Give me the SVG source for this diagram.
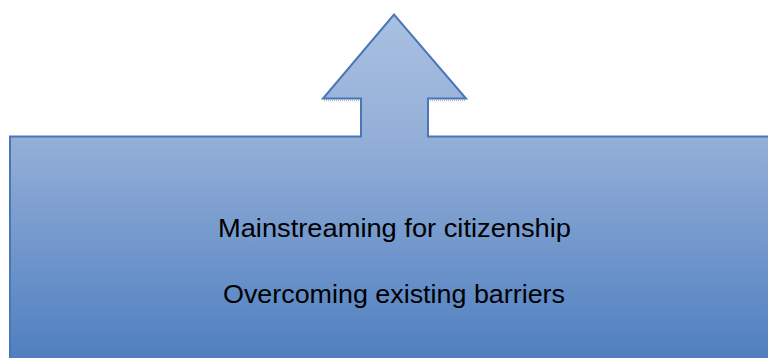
<svg xmlns="http://www.w3.org/2000/svg" width="768" height="358" viewBox="0 0 768 358">
  <defs>
    <linearGradient id="fillBlue" x1="0" y1="14" x2="0" y2="358" gradientUnits="userSpaceOnUse">
      <stop offset="0" stop-color="#a9c0e1"/>
      <stop offset="0.35" stop-color="#95b0d8"/>
      <stop offset="1" stop-color="#4f7fc0"/>
    </linearGradient>
  </defs>
  <style>
    .shape { fill: url(#fillBlue); stroke: #4a76b8; stroke-width: 2; stroke-linejoin: miter; }
    .ledge { stroke: #b8b8b8; stroke-width: 1.5; stroke-dasharray: 1 1; fill: none; }
    .label { font-family: "Liberation Sans", Arial, sans-serif; font-size: 25px; fill: #000; text-anchor: start; }
  </style>

  <!-- base panel with upward arrow on top -->
  <g id="panel">
    <path class="ledge" d="M324,100.5 H361 M428,100.5 H465"/>
    <path class="shape" d="M10,362 V136.5 H361 V98.5 H323 L394,14.5 L466,98.5 H428 V136.5 H772 V362 Z"/>
    <text class="label" x="218" y="237" textLength="353" lengthAdjust="spacingAndGlyphs">Mainstreaming for citizenship</text>
    <text class="label" x="223" y="303" textLength="342" lengthAdjust="spacingAndGlyphs">Overcoming existing barriers</text>
  </g>

  <g id="connectors"/>
</svg>
